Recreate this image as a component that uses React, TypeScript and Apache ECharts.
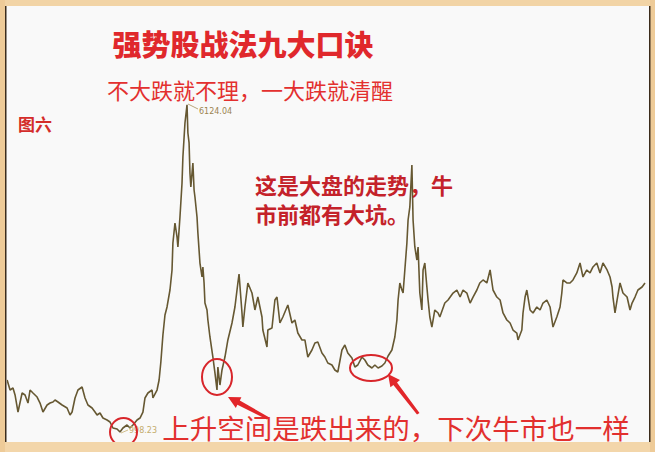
import React, { useEffect, useRef } from "react";
import * as echarts from "echarts";

// Shanghai composite index path: [year, index level]
const range2001to2006: [number, number][] = [
  [2001.66, 1813], [2001.76, 1656], [2001.86, 1688], [2001.93, 1578], [2002.03, 1311],
  [2002.17, 1609], [2002.27, 1578], [2002.37, 1452], [2002.44, 1656], [2002.54, 1609],
  [2002.68, 1546], [2002.78, 1452], [2002.88, 1311], [2003.02, 1421], [2003.12, 1452],
  [2003.22, 1468], [2003.29, 1499], [2003.39, 1468], [2003.53, 1421], [2003.7, 1374],
  [2003.8, 1264], [2003.87, 1311], [2003.97, 1531], [2004.07, 1656], [2004.21, 1703],
  [2004.31, 1531], [2004.41, 1421], [2004.55, 1374], [2004.65, 1311], [2004.72, 1264],
  [2004.82, 1296], [2004.92, 1217], [2005.06, 1186], [2005.16, 1155], [2005.26, 1061],
  [2005.4, 1045], [2005.5, 998], [2005.6, 1061], [2005.74, 1108], [2005.84, 1061],
  [2005.94, 1108], [2006.08, 1186], [2006.18, 1217], [2006.28, 1311], [2006.35, 1531],
  [2006.45, 1609], [2006.59, 1656], [2006.62, 1531], [2006.76, 1656], [2006.83, 1813],
];
const bull2007: [number, number][] = [
  [2006.89, 2095], [2006.96, 2518], [2007.03, 2831], [2007.1, 2957], [2007.2, 3223],
  [2007.27, 3537], [2007.3, 3960], [2007.37, 4273], [2007.44, 4054], [2007.47, 3897],
  [2007.54, 4367], [2007.61, 4900], [2007.64, 5307], [2007.71, 5840], [2007.78, 6124],
];
const bear2008: [number, number][] = [
  [2007.81, 5683], [2007.85, 5527], [2007.88, 5057], [2007.91, 4837], [2007.98, 5213],
  [2008.02, 4790], [2008.05, 4680], [2008.12, 4367], [2008.15, 4116], [2008.22, 3646],
  [2008.29, 3427], [2008.32, 3584], [2008.36, 3333], [2008.39, 3019], [2008.46, 2910],
  [2008.49, 2753], [2008.56, 2487], [2008.66, 2173], [2008.73, 1923], [2008.8, 1656],
  [2008.83, 2017], [2008.9, 1734], [2008.97, 1970],
];
const range2009to2014: [number, number][] = [
  [2009.07, 2173], [2009.17, 2440], [2009.31, 2706], [2009.41, 2957], [2009.51, 3333],
  [2009.55, 3474], [2009.65, 2863], [2009.68, 2643], [2009.75, 2957], [2009.85, 3333],
  [2009.99, 3176], [2010.09, 2910], [2010.19, 3113], [2010.33, 2800], [2010.36, 2596],
  [2010.5, 2330], [2010.53, 2596], [2010.67, 2628], [2010.77, 3066], [2010.84, 3113],
  [2010.94, 2706], [2011.04, 2800], [2011.21, 2988], [2011.35, 2706], [2011.45, 2753],
  [2011.55, 2549], [2011.69, 2440], [2011.79, 2440], [2011.89, 2173], [2012.03, 2283],
  [2012.13, 2393], [2012.23, 2408], [2012.37, 2236], [2012.47, 2173], [2012.57, 2079],
  [2012.71, 2048], [2012.81, 1970], [2012.91, 1938], [2013.05, 2283], [2013.15, 2361],
  [2013.25, 2236], [2013.39, 2158], [2013.49, 2017], [2013.59, 2048], [2013.73, 2173],
  [2013.83, 2126], [2013.93, 2048], [2014.07, 2001], [2014.17, 2048], [2014.28, 2001],
  [2014.41, 2032], [2014.51, 2079], [2014.62, 2189],
];
const bull2015: [number, number][] = [
  [2014.75, 2283], [2014.85, 2487], [2014.92, 2753], [2014.96, 3066], [2015.02, 3333],
  [2015.09, 3223], [2015.13, 3176], [2015.19, 3537], [2015.26, 3960], [2015.3, 4320],
  [2015.36, 4524], [2015.43, 5182], [2015.47, 4320], [2015.53, 3897], [2015.6, 3693],
  [2015.64, 3897], [2015.7, 3176], [2015.77, 2910], [2015.81, 3537], [2015.87, 3646],
  [2015.94, 3270], [2015.98, 3066], [2016.04, 2800], [2016.11, 2643], [2016.21, 2910],
  [2016.32, 2863],
];
const range2016to2023: [number, number][] = [
  [2016.38, 2800], [2016.55, 3019], [2016.66, 3066], [2016.83, 3176], [2016.96, 3223],
  [2017.07, 3113], [2017.17, 3223], [2017.3, 3176], [2017.41, 3019], [2017.51, 3113],
  [2017.64, 3223], [2017.74, 3333], [2017.85, 3380], [2017.98, 3333], [2018.09, 3537],
  [2018.19, 3223], [2018.32, 3113], [2018.43, 3066], [2018.53, 2863], [2018.66, 2753],
  [2018.77, 2706], [2018.87, 2596], [2019.0, 2549], [2019.04, 2440], [2019.17, 2596],
  [2019.21, 2863], [2019.28, 3113], [2019.34, 3223], [2019.45, 2910], [2019.55, 2863],
  [2019.68, 2957], [2019.79, 2910], [2019.89, 3019], [2020.02, 3066], [2020.13, 2957],
  [2020.23, 2643], [2020.36, 2800], [2020.47, 2957], [2020.53, 3176], [2020.57, 3380],
  [2020.7, 3333], [2020.81, 3333], [2020.91, 3380], [2021.04, 3490], [2021.15, 3646],
  [2021.25, 3427], [2021.38, 3537], [2021.49, 3490], [2021.59, 3584], [2021.72, 3646],
  [2021.83, 3490], [2021.93, 3646], [2022.07, 3537], [2022.17, 3427], [2022.24, 3270],
  [2022.27, 3113], [2022.34, 2863], [2022.41, 3066], [2022.51, 3333], [2022.61, 3176],
  [2022.75, 3113], [2022.85, 2910], [2022.92, 3019], [2023.02, 3113], [2023.12, 3223],
  [2023.26, 3270], [2023.36, 3333],
];

const peakLabel = "6124.04";
const lowLabel = "998.23";
const titleText = "强势股战法九大口诀";
const subtitleText = "不大跌就不理，一大跌就清醒";
const figureText = "图六";
const noteLine1 = "这是大盘的走势，牛";
const noteLine2 = "市前都有大坑。";
const bottomText = "上升空间是跌出来的，下次牛市也一样";

const CJK = '"Noto Sans CJK SC", "Noto Sans", sans-serif';

export default function App() {
  const ref = useRef<HTMLDivElement>(null);
  useEffect(() => {
    const chart = echarts.init(ref.current!, null, { renderer: "svg" });
    const series = [
      ...range2001to2006,
      ...bull2007,
      ...bear2008,
      ...range2009to2014,
      ...bull2015,
      ...range2016to2023,
    ];
    const red = "#d8262b";
    chart.setOption({
      animation: false,
      backgroundColor: "#f9f9f9",
      grid: { left: 8, right: 10, top: 87.25, bottom: 7.36 },
      xAxis: { type: "value", min: 2001.69, max: 2023.36, show: false },
      yAxis: { type: "value", min: 800, max: 6400, show: false },
      series: [
        {
          type: "line",
          data: series,
          showSymbol: false,
          lineStyle: { color: "#665832", width: 1.6 },
          z: 2,
        },
      ],
      graphic: [
        { type: "text", x: 243, y: 43, z: 10, style: { text: titleText, fill: "#e0282c", fontSize: 29, fontWeight: 900, fontFamily: CJK, align: "center", verticalAlign: "middle" } },
        { type: "text", x: 250, y: 89, z: 10, style: { text: subtitleText, fill: "#e3302f", fontSize: 22, fontFamily: CJK, align: "center", verticalAlign: "middle" } },
        { type: "text", x: 18, y: 123, z: 10, style: { text: figureText, fill: "#d42c2a", fontSize: 17, fontWeight: "bold", fontFamily: CJK, align: "left", verticalAlign: "middle" } },
        { type: "text", x: 255, y: 184, z: 10, style: { text: noteLine1, fill: "#c4222a", fontSize: 22, fontWeight: "bold", fontFamily: CJK, align: "left", verticalAlign: "middle" } },
        { type: "text", x: 255, y: 213, z: 10, style: { text: noteLine2, fill: "#c4222a", fontSize: 22, fontWeight: "bold", fontFamily: CJK, align: "left", verticalAlign: "middle" } },
        { type: "text", x: 396, y: 427, z: 10, style: { text: bottomText, fill: "#e2302f", fontSize: 27.5, fontFamily: CJK, align: "center", verticalAlign: "middle" } },
        { type: "line", z: 10, shape: { x1: 188, y1: 104, x2: 198, y2: 109 }, style: { stroke: "#a8905a", lineWidth: 0.8 } },
        { type: "text", x: 199, y: 111, z: 10, style: { text: peakLabel, fill: "#9c8450", fontSize: 8, fontFamily: "DejaVu Sans", align: "left", verticalAlign: "middle" } },
        { type: "line", z: 10, shape: { x1: 121, y1: 433, x2: 128, y2: 430 }, style: { stroke: "#c8b070", lineWidth: 0.8 } },
        { type: "text", x: 129, y: 430, z: 10, style: { text: lowLabel, fill: "#c4ac6c", fontSize: 8, fontFamily: "DejaVu Sans", align: "left", verticalAlign: "middle" } },
        { type: "ellipse", z: 11, shape: { cx: 123.5, cy: 432, rx: 13.5, ry: 14 }, style: { fill: "none", stroke: red, lineWidth: 2 } },
        { type: "ellipse", z: 11, shape: { cx: 217, cy: 377, rx: 15, ry: 18 }, style: { fill: "none", stroke: red, lineWidth: 2 } },
        { type: "ellipse", z: 11, shape: { cx: 371, cy: 368, rx: 21, ry: 13 }, style: { fill: "none", stroke: red, lineWidth: 2 } },
        { type: "polygon", z: 11, shape: { points: [[228, 397], [241.4, 397.3], [239.8, 400.6], [268.5, 417], [267, 419.5], [237.4, 404.8], [235.8, 407.9]] }, style: { fill: "#e2262a" } },
        { type: "polygon", z: 11, shape: { points: [[388, 374], [400, 380], [397, 382.6], [419.5, 413], [417, 414.5], [393.4, 385], [390.4, 387.2]] }, style: { fill: "#e2262a" } },
        { type: "rect", z: 20, shape: { x: 0, y: 0, width: 655, height: 6 }, style: { fill: "#f2d4a6" } },
        { type: "rect", z: 20, shape: { x: 0, y: 442, width: 655, height: 10 }, style: { fill: "#f3d6aa" } },
        { type: "rect", z: 20, shape: { x: 0, y: 0, width: 5, height: 452 }, style: { fill: "#eecb98" } },
        { type: "rect", z: 20, shape: { x: 5, y: 6, width: 1.5, height: 436 }, style: { fill: "#3b2c1c" } },
        { type: "rect", z: 20, shape: { x: 650, y: 0, width: 5, height: 452 }, style: { fill: "#eecb98" } },
        { type: "rect", z: 20, shape: { x: 649, y: 6, width: 1.5, height: 436 }, style: { fill: "#3b2c1c" } },
      ],
    });
    return () => chart.dispose();
  }, []);
  return (
    <div
      ref={ref}
      style={{ position: "absolute", left: 0, top: 0, width: 655, height: 452 }}
    />
  );
}
